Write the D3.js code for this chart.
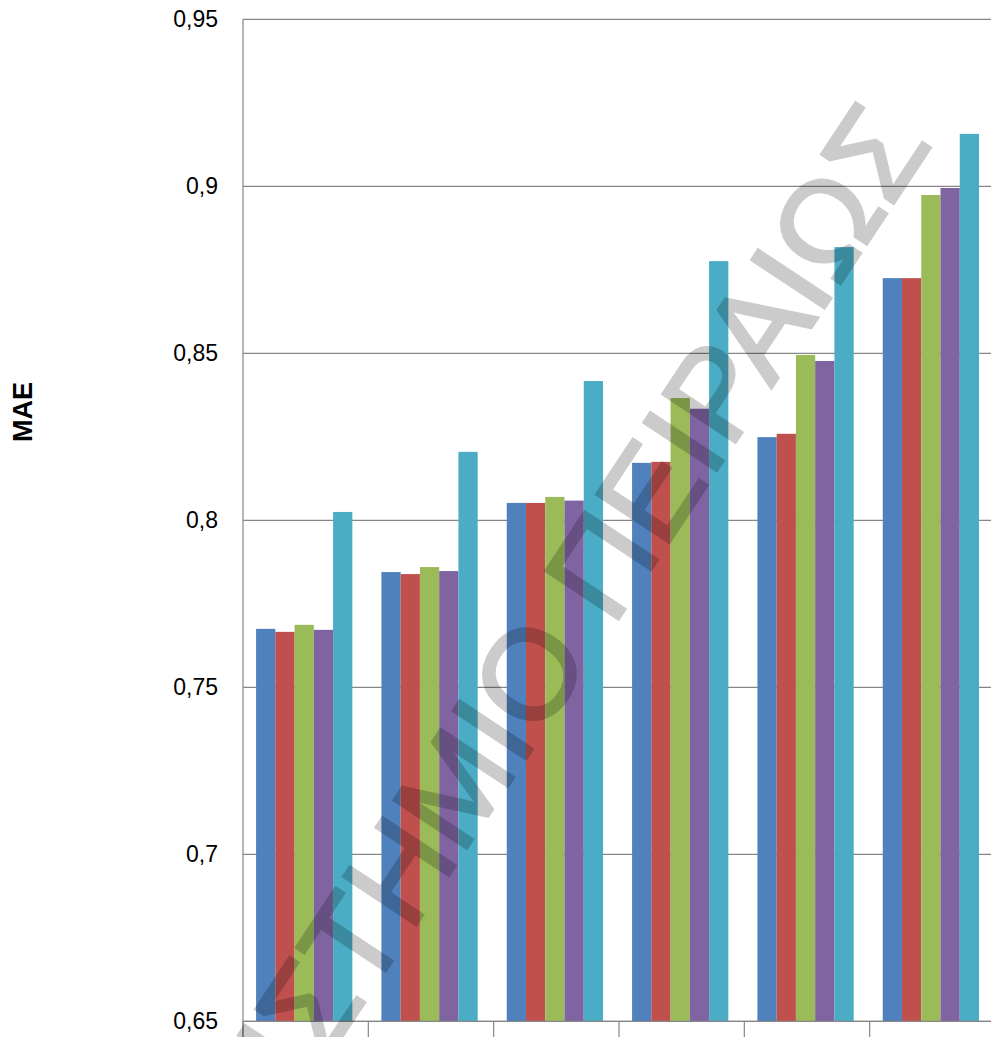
<!DOCTYPE html>
<html>
<head>
<meta charset="utf-8">
<script src="https://cdn.jsdelivr.net/npm/d3@7"></script>
<style>
  html, body { margin: 0; padding: 0; background: #ffffff; overflow: hidden; }
  svg { display: block; }
</style>
</head>
<body>
<svg id="chart" width="991" height="1037"></svg>
<script>
// ---- data ----
const categories = ["G1", "G2", "G3", "G4", "G5", "G6"];
const seriesNames = ["S1", "S2", "S3", "S4", "S5"];
const seriesColors = ["#4F81BD", "#C0504D", "#9BBB59", "#8064A2", "#4BACC6"];
const s1 = [0.7675, 0.7845, 0.8052, 0.8172, 0.8249, 0.8725];
const s2 = [0.7666, 0.7839, 0.8052, 0.8175, 0.8259, 0.8725];
const s3 = [0.7687, 0.7860, 0.8070, 0.8366, 0.8495, 0.8974];
const s4 = [0.7672, 0.7848, 0.8059, 0.8334, 0.8477, 0.8995];
const s5 = [0.8025, 0.8205, 0.8417, 0.8776, 0.8818, 0.9157];
const seriesValues = [s1, s2, s3, s4, s5];
const yTickValues = [0.65, 0.7, 0.75, 0.8, 0.85, 0.9, 0.95];
const yTickLabels = ["0,65", "0,7", "0,75", "0,8", "0,85", "0,9", "0,95"];
const yTitle = "MAE";
const watermark = "ΠΑΝΕΠΙΣΤΗΜΙΟ ΠΕΙΡΑΙΩΣ";

// ---- layout ----
const svg = d3.select("#chart");
const plot = { left: 243, right: 995, top: 19.3, bottom: 1021.3 };
const gridColor = "#868686";

const x0 = d3.scaleBand().domain(categories).range([plot.left, plot.right]).paddingInner(0).paddingOuter(0);
const x1 = d3.scaleBand().domain(seriesNames).range([0, x0.bandwidth()]).paddingInner(0).paddingOuter(0.755).align(0.45);
const y = d3.scaleLinear().domain([0.65, 0.95]).range([plot.bottom, plot.top]);

// gridlines
svg.append("g").selectAll("line").data(yTickValues).join("line")
  .attr("x1", plot.left).attr("x2", plot.right)
  .attr("y1", d => y(d)).attr("y2", d => y(d))
  .attr("stroke", gridColor).attr("stroke-width", 1.2);

// bars
const rows = categories.map((c, i) => ({ cat: c, vals: seriesNames.map((s, j) => ({ s, j, v: seriesValues[j][i] })) }));
const groups = svg.append("g").selectAll("g").data(rows).join("g")
  .attr("transform", d => `translate(${x0(d.cat)},0)`);
groups.selectAll("rect").data(d => d.vals).join("rect")
  .attr("x", d => x1(d.s))
  .attr("width", x1.bandwidth())
  .attr("y", d => y(d.v))
  .attr("height", d => y(0.65) - y(d.v))
  .attr("fill", d => seriesColors[d.j]);

// y axis
const yAxis = d3.axisLeft(y).tickValues(yTickValues)
  .tickFormat((d, i) => yTickLabels[i]).tickSize(0).tickPadding(25);
const gy = svg.append("g").attr("transform", `translate(${plot.left},0)`).call(yAxis);
gy.select(".domain").remove();
gy.selectAll("text").attr("font-family", "'Liberation Sans', Arial, sans-serif")
  .attr("font-size", 23).attr("fill", "#000");
svg.append("line").attr("x1", plot.left).attr("x2", plot.left)
  .attr("y1", plot.top).attr("y2", 1037)
  .attr("stroke", gridColor).attr("stroke-width", 1.2);

// x axis
const boundaries = categories.map(c => x0(c)).concat([plot.right]);
svg.append("line").attr("x1", plot.left).attr("x2", plot.right)
  .attr("y1", plot.bottom).attr("y2", plot.bottom)
  .attr("stroke", gridColor).attr("stroke-width", 1.2);
svg.append("g").selectAll("line").data(boundaries).join("line")
  .attr("x1", d => d).attr("x2", d => d)
  .attr("y1", plot.bottom).attr("y2", plot.bottom + 20)
  .attr("stroke", gridColor).attr("stroke-width", 1.2);

// y title
svg.append("text")
  .attr("transform", "translate(23,412) rotate(-90)")
  .attr("text-anchor", "middle").attr("dominant-baseline", "central")
  .attr("font-family", "'Liberation Sans', Arial, sans-serif")
  .attr("font-weight", "bold").attr("font-size", 27).attr("fill", "#000")
  .text(yTitle);

// watermark (semi-transparent, on top)
const wmSize = 127;
const wm = svg.append("g").attr("transform", "translate(528,673) rotate(-56.5)")
  .attr("opacity", 0.2).style("pointer-events", "none");
const wt = wm.append("text")
  .attr("font-family", "'Liberation Sans', Arial, sans-serif")
  .attr("font-size", wmSize).attr("fill", "#000")
  .attr("stroke", "#000").attr("stroke-width", 3).attr("stroke-linejoin", "miter")
  .attr("x", 0).attr("y", 0.36 * wmSize)
  .text(watermark);
const node = wt.node();
const idx = watermark.indexOf("Ο");
const before = node.getSubStringLength(0, idx);
const ow = node.getSubStringLength(idx, 1);
wt.attr("x", -(before + ow / 2));
</script>
</body>
</html>
